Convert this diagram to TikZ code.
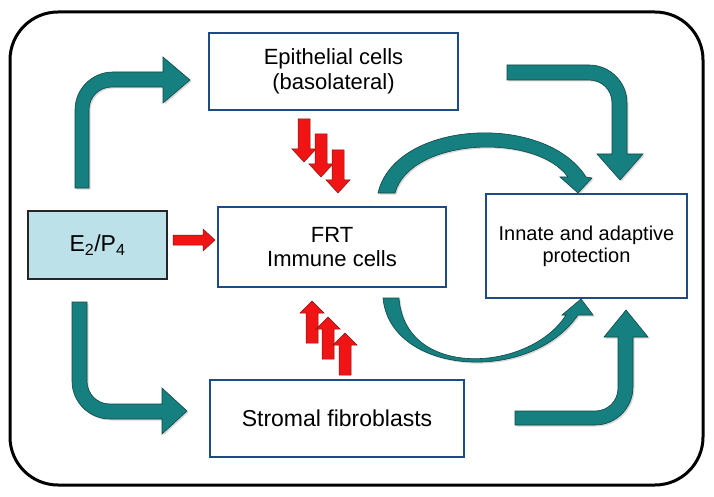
\documentclass[tikz,border=0pt]{standalone}
\usepackage{fontspec}
\setmainfont{Liberation Sans}
\usetikzlibrary{shadows}
\definecolor{teal1}{RGB}{22,128,128}
\definecolor{tealdark}{RGB}{15,70,70}
\definecolor{boxblue}{RGB}{28,76,132}
\definecolor{lightblue}{RGB}{188,225,232}
\definecolor{redarr}{RGB}{240,20,20}
\definecolor{reddark}{RGB}{130,20,20}
\begin{document}
\begin{tikzpicture}[x=1pt,y=-1pt,
  box/.style={draw=boxblue, line width=2.8pt, fill=white, align=center, inner sep=0pt,
    font=\fontsize{22}{25}\selectfont},
  tealarrow/.style={fill=teal1, draw=tealdark, line width=0.6pt,
    drop shadow={opacity=0.3, shadow xshift=1.5pt, shadow yshift=-1.5pt}},
  redarrow/.style={fill=redarr, draw=reddark, line width=0.5pt},
  downarr/.pic={\draw[redarrow] (-6,-43) -- (-6,-13) -- (-12,-13) -- (0,0) -- (12,-13) -- (6,-13) -- (6,-43) -- cycle;},
  uparr/.pic={\draw[redarrow] (-6,42) -- (-6,12) -- (-12,12) -- (0,0) -- (12,12) -- (6,12) -- (6,42) -- cycle;}
]
\fill[white] (0,0) rectangle (714,497);
\useasboundingbox (0,0) rectangle (714,497);

% outer frame
\draw[line width=3pt, rounded corners=48pt] (10,12) rectangle (703,485);

% boxes
\node[box, minimum width=249pt, minimum height=77pt] (epi) at (333.5,71.5) {Epithelial cells\\(basolateral)};
\node[box, minimum width=254pt, minimum height=77pt, font=\fontsize{23}{25}\selectfont] (stro) at (337,418.5) {Stromal fibroblasts};
\node[box, minimum width=228pt, minimum height=80pt, font=\fontsize{22}{24}\selectfont] (frt) at (332,247) {FRT\\Immune cells};
\node[box, minimum width=201pt, minimum height=104pt, font=\fontsize{20}{22}\selectfont] (inn) at (586.5,246) {Innate and adaptive\\protection};
\node[draw=black!85, line width=2.8pt, fill=lightblue, minimum width=139pt, minimum height=68pt,
  font=\fontsize{23}{28}\selectfont] (hor) at (97.5,245) {E\textsubscript{2}/P\textsubscript{4}};

% teal bent arrows
\draw[tealarrow] (75,188) -- (75,110) .. controls (75,89) and (92,72) .. (113,72) -- (163,72) -- (163,57)
  -- (190,80) -- (163,103) -- (163,87) -- (112,87) .. controls (99,87) and (89,97) .. (89,110) -- (89,188) -- cycle;
\draw[tealarrow] (72,302) -- (72,381) .. controls (72,402) and (89,419) .. (110,419) -- (162,419) -- (162,434)
  -- (187,411) -- (162,388) -- (162,404) -- (110,404) .. controls (97,404) and (87,394) .. (87,381) -- (87,302) -- cycle;
\draw[tealarrow] (507,65) -- (589,65) .. controls (610,65) and (627,82) .. (627,103) -- (627,154) -- (643,154)
  -- (620,180) -- (597,154) -- (612,154) -- (612,103) .. controls (612,90) and (602,80) .. (589,80) -- (507,80) -- cycle;
\draw[tealarrow] (515,411) -- (595,411) .. controls (608,411) and (618,401) .. (618,388) -- (618,337) -- (604,337)
  -- (626,310) -- (648,337) -- (633,337) -- (633,387) .. controls (633,408) and (616,425) .. (595,425) -- (515,425) -- cycle;

% teal curved arrows
\draw[tealarrow] (378,193) .. controls (395,120) and (545,112) .. (586,177) -- (592,178) -- (578,193) -- (560,177)
  -- (568,177) .. controls (535,132) and (410,138) .. (395,193) -- cycle;
\draw[tealarrow] (383,298) .. controls (390,375) and (530,385) .. (578,315) -- (593,315) -- (581,299) -- (562,315)
  -- (566,315) .. controls (530,372) and (405,380) .. (399,298) -- cycle;

% red arrows
\pic at (304,162) {downarr};
\pic at (321,177) {downarr};
\pic at (338,193) {downarr};
\pic at (312,301) {uparr};
\pic at (328,317) {uparr};
\pic at (345,333) {uparr};
\draw[redarrow] (173,235) -- (203,235) -- (203,229) -- (215,240) -- (203,251) -- (203,245) -- (173,245) -- cycle;
\end{tikzpicture}
\end{document}
